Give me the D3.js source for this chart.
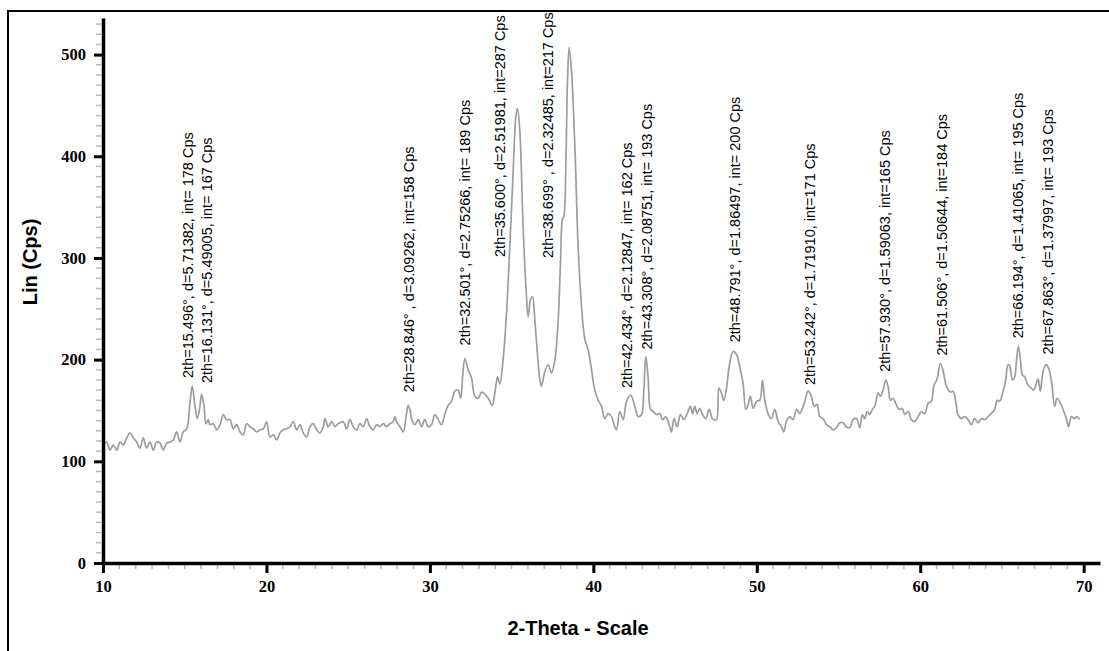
<!DOCTYPE html>
<html>
<head>
<meta charset="utf-8">
<script src="https://cdn.jsdelivr.net/npm/d3@7/dist/d3.min.js"></script>
<style>
  html, body { margin: 0; padding: 0; background: #fff; }
  svg { display: block; }
</style>
</head>
<body>
<svg id="chart" width="1109" height="651"></svg>
<script>
// ---- Data ----
const twoTheta = [
10.02,10.22,10.43,10.63,10.84,11.04,11.24,11.45,11.65,11.86,12.06,12.26,12.47,12.67,12.87,13.08,13.28,13.49,13.69,13.89,
14.10,14.30,14.51,14.71,14.91,15.12,15.32,15.46,15.63,15.77,15.93,16.03,16.18,16.30,16.44,16.54,16.75,16.95,17.16,17.36,
17.56,17.77,17.97,18.18,18.38,18.58,18.79,18.99,19.19,19.40,19.60,19.81,20.01,20.21,20.42,20.62,20.83,21.03,21.23,21.44,
21.64,21.85,22.05,22.25,22.46,22.66,22.86,23.07,23.27,23.48,23.58,23.78,23.99,24.19,24.39,24.70,24.90,25.11,25.31,25.51,
25.72,25.92,26.13,26.33,26.53,26.74,26.94,27.15,27.35,27.55,27.76,27.86,27.96,28.17,28.37,28.57,28.67,28.78,28.88,29.08,
29.29,29.49,29.69,29.90,30.10,30.30,30.51,30.71,30.92,31.12,31.32,31.53,31.73,31.88,32.00,32.14,32.34,32.55,32.75,32.96,
33.16,33.36,33.57,33.81,34.00,34.14,34.28,34.48,34.69,34.89,35.10,35.26,35.36,35.50,35.71,35.91,36.01,36.16,36.28,36.42,
36.56,36.73,36.83,37.03,37.24,37.44,37.65,37.85,37.99,38.11,38.20,38.32,38.42,38.52,38.66,38.87,39.07,39.28,39.48,39.68,
39.89,40.09,40.30,40.50,40.70,40.91,41.11,41.31,41.42,41.62,41.83,42.03,42.29,42.54,42.74,42.95,43.09,43.21,43.35,43.50,
43.66,43.86,44.07,44.23,44.43,44.64,44.78,44.94,45.13,45.33,45.54,45.74,45.94,46.07,46.21,46.35,46.51,46.68,46.88,47.09,
47.29,47.53,47.68,47.84,47.98,48.15,48.31,48.55,48.76,48.96,49.16,49.33,49.47,49.61,49.78,49.98,50.18,50.35,50.49,50.69,
50.90,51.10,51.31,51.51,51.65,51.81,52.02,52.22,52.43,52.63,52.79,52.94,53.14,53.34,53.51,53.69,53.85,54.06,54.26,54.47,
54.67,54.87,55.08,55.28,55.48,55.69,55.89,56.10,56.30,56.46,56.61,56.75,56.91,57.07,57.22,57.42,57.56,57.73,57.89,58.03,
58.18,58.34,58.50,58.71,58.91,59.05,59.26,59.46,59.66,59.87,60.07,60.28,60.48,60.68,60.83,61.03,61.23,61.40,61.56,61.70,
61.85,62.01,62.17,62.31,62.52,62.72,62.93,63.13,63.33,63.54,63.74,63.95,64.15,64.35,64.56,64.70,64.86,65.07,65.23,65.37,
65.47,65.64,65.78,65.88,66.00,66.13,66.25,66.39,66.60,66.80,66.94,67.11,67.21,67.35,67.51,67.68,67.82,68.02,68.23,68.37,
68.53,68.74,68.94,69.08,69.25,69.45,69.59,69.76
];
const counts = [
116,119,111,116,111,119,116,123,128,123,119,113,123,113,119,111,119,118,111,118,
119,121,129,119,129,132,157,174,154,142,154,166,154,137,141,136,137,131,136,146,
141,141,132,136,129,126,137,134,132,129,131,132,139,124,126,121,128,131,132,134,
139,131,136,128,124,134,137,131,128,134,142,134,139,134,137,139,132,141,134,131,
137,134,142,134,131,136,134,137,134,137,139,144,139,134,129,147,155,151,142,136,
141,134,141,134,136,146,141,136,147,155,159,169,170,162,183,201,190,182,164,162,
168,166,162,155,170,183,176,200,246,311,387,439,447,426,328,262,242,259,262,239,
210,180,174,188,195,187,200,239,295,338,341,393,475,507,485,410,311,252,220,210,
190,170,160,154,142,147,144,134,131,149,141,159,165,154,144,146,170,203,183,151,
149,146,147,141,144,136,129,142,134,146,141,147,154,147,154,147,152,146,142,151,
142,141,172,167,160,172,193,208,205,193,177,151,156,164,152,159,160,180,160,147,
142,151,139,134,129,139,144,141,151,147,152,159,169,164,154,156,144,142,136,134,
131,133,138,138,134,133,141,142,133,146,142,149,146,151,154,167,164,170,180,174,
160,162,157,151,152,146,149,141,139,144,149,147,157,159,174,181,196,189,176,171,
168,169,159,146,142,144,141,136,142,138,142,141,144,147,151,160,159,169,180,195,
194,180,183,197,213,200,185,183,175,172,170,177,181,169,188,195,193,180,154,162,
159,151,142,134,144,142,144,141
];
const xTicks = [10, 20, 30, 40, 50, 60, 70];
const yTicks = [0, 100, 200, 300, 400, 500];

const peakLabels = [
  "2th=15.496°, d=5.71382, int= 178 Cps",
  "2th=16.131°, d=5.49005, int= 167 Cps",
  "2th=28.846° , d=3.09262, int=158 Cps",
  "2th=32.501°, d=2.75266, int= 189 Cps",
  "2th=35.600°, d=2.51981, int=287 Cps",
  "2th=38.699° , d=2.32485, int=217 Cps",
  "2th=42.434°, d=2.12847, int= 162 Cps",
  "2th=43.308°, d=2.08751, int= 193 Cps",
  "2th=48.791°, d=1.86497, int= 200 Cps",
  "2th=53.242°, d=1.71910, int=171 Cps",
  "2th=57.930°, d=1.59063, int=165 Cps",
  "2th=61.506°, d=1.50644, int=184 Cps",
  "2th=66.194°, d=1.41065, int= 195 Cps",
  "2th=67.863°, d=1.37997, int= 193 Cps"
];
// where each label sits, in data units (2θ of its baseline, Cps of its lower end)
const labelAt2Theta = [15.50, 16.67, 29.02, 32.45, 34.59, 37.52, 42.35, 43.58, 48.96, 53.55, 58.14, 61.62, 66.27, 68.10];
const labelAtCps    = [182, 177, 168, 214, 301, 300, 172, 210, 217, 175, 188, 204, 221, 205];

const xLabel = "2-Theta - Scale";
const yLabel = "Lin (Cps)";

// ---- Layout ----
const svg = d3.select("#chart");
const x = d3.scaleLinear().domain([10, 71]).range([103, 1100]);
const y = d3.scaleLinear().domain([0, 536]).range([563, 18]);

// outer frame
svg.append("rect")
  .attr("x", 8).attr("y", 11).attr("width", 1130).attr("height", 680)
  .attr("fill", "none").attr("stroke", "#000").attr("stroke-width", 2);

// minor ticks
svg.append("g").selectAll("line")
  .data(d3.range(11, 71).filter(v => v % 10 !== 0))
  .join("line")
  .attr("x1", d => x(d)).attr("x2", d => x(d))
  .attr("y1", y(0) + 2).attr("y2", y(0) + 6)
  .attr("stroke", "#b8b8b8").attr("stroke-width", 1.5);

svg.append("g").selectAll("line")
  .data(d3.range(10, 536, 10).filter(v => v % 100 !== 0))
  .join("line")
  .attr("x1", x(10) - 7).attr("x2", x(10) - 2)
  .attr("y1", d => y(d)).attr("y2", d => y(d))
  .attr("stroke", "#b8b8b8").attr("stroke-width", 1.5);

// data line
const line = d3.line()
  .x((d, i) => x(twoTheta[i]))
  .y(d => y(d))
  .curve(d3.curveCatmullRom.alpha(0.5));

svg.append("path")
  .datum(counts)
  .attr("d", line)
  .attr("fill", "none")
  .attr("stroke", "#9d9d9d")
  .attr("stroke-width", 1.7)
  .attr("stroke-linejoin", "round");

// axes
const xAxis = d3.axisBottom(x).tickValues(xTicks).tickSizeInner(10).tickSizeOuter(0).tickPadding(7).tickFormat(d3.format("d"));
const yAxis = d3.axisLeft(y).tickValues(yTicks).tickSizeInner(9).tickSizeOuter(0).tickPadding(8).tickFormat(d3.format("d"));

const gx = svg.append("g").attr("transform", `translate(0,${y(0)})`).call(xAxis);
const gy = svg.append("g").attr("transform", `translate(${x(10)},0)`).call(yAxis);

[gx, gy].forEach(g => {
  g.attr("font-size", null).attr("font-family", null);
  g.select(".domain").attr("stroke", "#000").attr("stroke-width", 3.5);
  g.selectAll(".tick line").attr("stroke", "#000").attr("stroke-width", 3);
  g.selectAll(".tick text")
    .attr("fill", "#000")
    .attr("font-family", "'Liberation Serif', 'Times New Roman', serif")
    .attr("font-weight", "bold")
    .attr("font-size", "16.5px");
});

// axis titles
svg.append("text")
  .attr("x", 578).attr("y", 635)
  .attr("text-anchor", "middle")
  .attr("font-family", "'Liberation Sans', Arial, sans-serif")
  .attr("font-weight", "bold")
  .attr("font-size", "20px")
  .text(xLabel);

svg.append("text")
  .attr("transform", "translate(37,262) rotate(-90)")
  .attr("text-anchor", "middle")
  .attr("font-family", "'Liberation Sans', Arial, sans-serif")
  .attr("font-weight", "bold")
  .attr("font-size", "20px")
  .text(yLabel);

// peak annotations
svg.append("g").selectAll("text")
  .data(peakLabels)
  .join("text")
  .attr("transform", (d, i) => `translate(${x(labelAt2Theta[i])},${y(labelAtCps[i])}) rotate(-90)`)
  .attr("text-anchor", "start")
  .attr("font-family", "'Liberation Sans', Arial, sans-serif")
  .attr("font-size", "14.5px")
  .attr("fill", "#000")
  .text(d => d);
</script>
</body>
</html>
